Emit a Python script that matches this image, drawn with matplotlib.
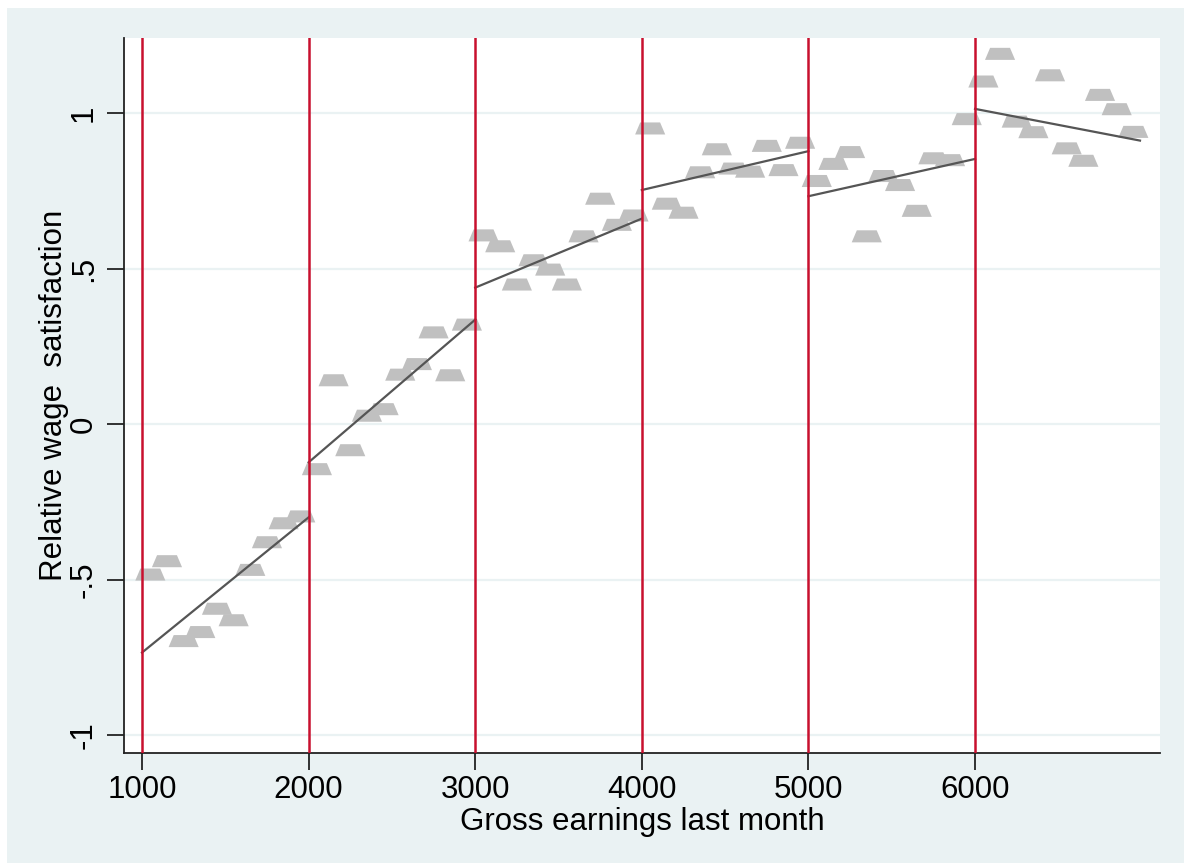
import numpy as np
import matplotlib
matplotlib.use("Agg")
import matplotlib.pyplot as plt
from matplotlib.path import Path
from matplotlib.patches import Rectangle

# binned means of relative wage satisfaction (bin width 100)
earnings_bins = [1050, 1150, 1250, 1350, 1450, 1550, 1650, 1750, 1850, 1950,
                 2050, 2150, 2250, 2350, 2450, 2550, 2650, 2750, 2850, 2950,
                 3050, 3150, 3250, 3350, 3450, 3550, 3650, 3750, 3850, 3950,
                 4050, 4150, 4250, 4350, 4450, 4550, 4650, 4750, 4850, 4950,
                 5050, 5150, 5250, 5350, 5450, 5550, 5650, 5750, 5850, 5950,
                 6050, 6150, 6250, 6350, 6450, 6550, 6650, 6750, 6850, 6950]
satisfaction = [-0.484, -0.441, -0.698, -0.669, -0.594, -0.631, -0.469, -0.380, -0.319, -0.297,
                -0.145, 0.141, -0.084, 0.027, 0.048, 0.159, 0.193, 0.295, 0.157, 0.320,
                0.607, 0.572, 0.449, 0.527, 0.497, 0.449, 0.604, 0.725, 0.641, 0.671,
                0.951, 0.709, 0.680, 0.810, 0.884, 0.822, 0.812, 0.895, 0.817, 0.905,
                0.782, 0.837, 0.875, 0.604, 0.798, 0.769, 0.686, 0.855, 0.849, 0.981,
                1.102, 1.191, 0.973, 0.939, 1.122, 0.887, 0.847, 1.059, 1.013, 0.940]

# piecewise linear fits: segment start/end in earnings and fitted value
fit_x0 = [1000, 2000, 3000, 4000, 5000, 6000]
fit_x1 = [2000, 3000, 4000, 5000, 6000, 6990]
fit_y0 = [-0.735, -0.123, 0.439, 0.753, 0.733, 1.014]
fit_y1 = [-0.300, 0.336, 0.661, 0.878, 0.853, 0.912]

cutoffs = [1000, 2000, 3000, 4000, 5000, 6000]
xticks = [1000, 2000, 3000, 4000, 5000, 6000]
yticks = [-1, -0.5, 0, 0.5, 1]
ytick_labels = ["-1", "-.5", "0", ".5", "1"]

bg = "#eaf2f3"
plt.rcParams["font.family"] = ["Liberation Sans", "DejaVu Sans"]

# trapezoid marker, wider at the bottom
trap = Path([(-0.5, -0.2), (0.5, -0.2), (0.33, 0.2), (-0.33, 0.2), (-0.5, -0.2)],
            [Path.MOVETO, Path.LINETO, Path.LINETO, Path.LINETO, Path.CLOSEPOLY])

fig = plt.figure(figsize=(11.84, 8.63), dpi=100)
fig.patch.set_facecolor("white")
fig.patches.append(Rectangle((7 / 1184, 0), 1, 1 - 8 / 863, transform=fig.transFigure,
                             facecolor=bg, edgecolor="none", zorder=-1))

ax = fig.add_axes([124 / 1184, 110 / 863, 1036 / 1184, 715 / 863])
ax.set_facecolor("white")

for y in yticks:
    ax.axhline(y, color=bg, lw=1.6, zorder=0)

ax.scatter(earnings_bins, satisfaction, marker=trap, s=470, color="#c0c0c0",
           edgecolors="none", zorder=2)

for x0, x1, y0, y1 in zip(fit_x0, fit_x1, fit_y0, fit_y1):
    ax.plot([x0, x1], [y0, y1], color="#555555", lw=1.6, zorder=3)

for c in cutoffs:
    ax.axvline(c, color="#c8102e", lw=1.8, zorder=4)

ax.set_xlim(892, 7110)
ax.set_ylim(-1.058, 1.242)
ax.set_xticks(xticks)
ax.set_yticks(yticks)
ax.set_yticklabels(ytick_labels, rotation=90, va="center")
ax.tick_params(axis="both", length=12, width=1.3, labelsize=22.5, color="#222222")
ax.tick_params(axis="x", pad=4)
ax.tick_params(axis="y", pad=6)

for side in ["top", "right"]:
    ax.spines[side].set_visible(False)
for side in ["left", "bottom"]:
    ax.spines[side].set_linewidth(1.3)
    ax.spines[side].set_color("#222222")

ax.set_xlabel("Gross earnings last month", fontsize=22.5, labelpad=1)
ax.set_ylabel("Relative wage  satisfaction", fontsize=22.5, labelpad=0)

fig.savefig("out.png", dpi=100, facecolor=fig.get_facecolor())
